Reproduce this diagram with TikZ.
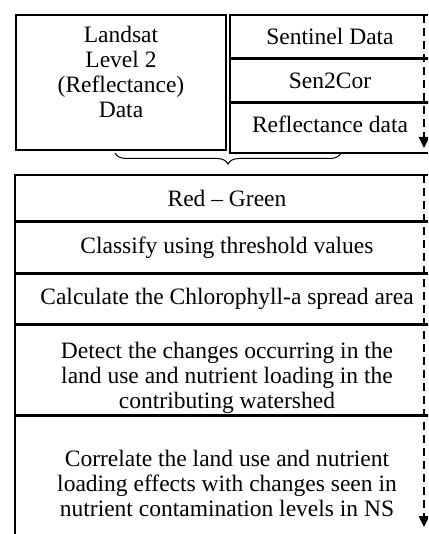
\documentclass[tikz,border=0pt]{standalone}
\usepackage{fontspec}
\setmainfont{Liberation Serif}
\usepackage{tikz}
\usetikzlibrary{arrows.meta,positioning,decorations.pathreplacing,calc}

\tikzset{
  stepbox/.style={draw, line width=1.5pt, align=center, inner sep=0pt,
    font=\fontsize{23.5}{25}\selectfont},
  flow/.style={line width=2.5pt, dash pattern=on 8pt off 5pt,
    -{Triangle[length=11pt,width=10pt]}}
}

\begin{document}
\begin{tikzpicture}[x=1pt, y=-1pt]
\clip (0,0) rectangle (428,534);
%Input data
\node[stepbox, minimum width=210pt, minimum height=135pt, text depth=21pt] (landsat) at (121,82.5) {Landsat\\Level 2\\(Reflectance)\\Data};
\node[stepbox, minimum width=200pt, minimum height=43pt] (sentinel) at (330,36.5) {Sentinel Data};
\node[stepbox, minimum width=200pt, minimum height=42pt, below=0pt of sentinel] (sencor) {Sen2Cor};
\node[stepbox, minimum width=200pt, minimum height=50pt, text depth=8pt, below=0pt of sencor] (refl) {Reflectance data};
%Brace
\coordinate (bl) at (115,153);
\coordinate (br) at (341,153);
\draw[line width=1pt, decorate, decoration={brace, mirror, amplitude=11pt}] (bl) -- (br);
%Processing steps
\node[stepbox, minimum width=424pt, minimum height=46pt] (redgreen) at (227,198) {Red -- Green};
\node[stepbox, minimum width=424pt, minimum height=50pt, below=0pt of redgreen] (classify) {Classify using threshold values};
\node[stepbox, minimum width=424pt, minimum height=50pt, below=0pt of classify] (chla) {Calculate the Chlorophyll-a spread area};
\node[stepbox, minimum width=424pt, minimum height=89pt, text height=76pt, text depth=0pt, below=0pt of chla] (detect) {Detect the changes occurring in the\\land use and nutrient loading in the\\contributing watershed};
\node[stepbox, minimum width=424pt, minimum height=134pt, below=0pt of detect] (correlate) {Correlate the land use and nutrient\\loading effects with changes seen in\\nutrient contamination levels in NS};
%Dashed flow arrows
\coordinate (f1s) at (424,15);
\coordinate (f1e) at (424,148);
\coordinate (f2s) at (424,175);
\coordinate (f2e) at (424,527);
\draw[flow] (f1s) -- (f1e);
\draw[flow] (f2s) -- (f2e);
\end{tikzpicture}
\end{document}
